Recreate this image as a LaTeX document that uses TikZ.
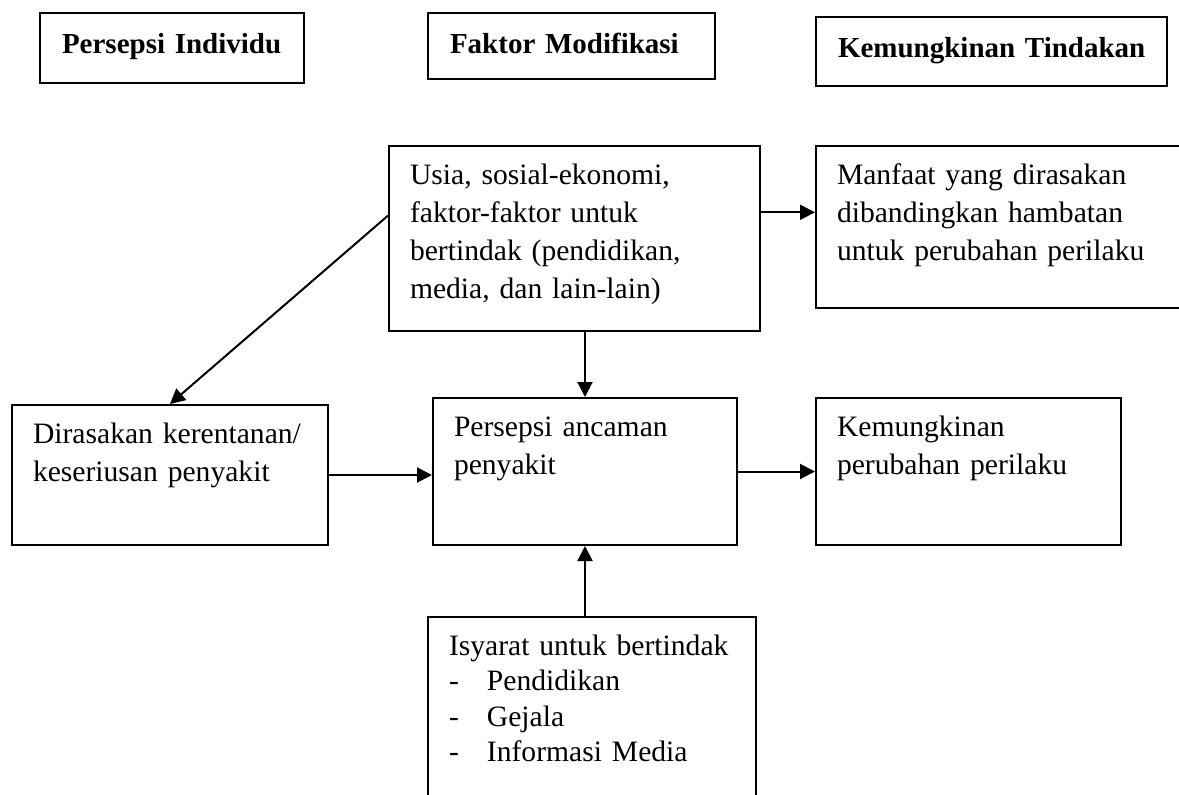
\documentclass[tikz,border=0pt]{standalone}
\usepackage{fontspec}
\setmainfont{Liberation Serif}
\usetikzlibrary{arrows.meta, positioning}

\begin{document}
\begin{tikzpicture}[
    font=\fontsize{14.8}{19}\selectfont,
    >={Triangle[length=7.5pt,width=7.5pt]},
    base/.style={
        rectangle,
        draw,
        line width=1pt,
        align=left,
        inner xsep=10.5pt,
        inner ysep=0pt,
        text height=19pt
    },
    header/.style={
        base,
        font=\fontsize{14.5}{19}\selectfont\bfseries,
        inner xsep=11pt,
        text height=20pt
    },
    flow/.style={
        ->,
        line width=1pt
    }
]

\useasboundingbox (0,0) rectangle (589.5pt,-397pt);

% --- Column headers ----------------------------------------------------------

\node[header, anchor=north west, text width=110pt, text depth=15pt] (persepsi)
    at (19.5pt,-6pt) {\mbox{Persepsi Individu}};

\node[header, right=61pt of persepsi.north east, anchor=north west,
      text width=121.5pt, text depth=13pt] (faktor) {\mbox{Faktor Modifikasi}};

\node[header, below right=2pt and 49.5pt of faktor.north east,
      text width=153.5pt, text depth=14.5pt] (tindakan) {\mbox{Kemungkinan Tindakan}};

% --- Model boxes -------------------------------------------------------------

\node[base, below right=32.5pt and -19.5pt of faktor.south west,
      text width=164.5pt, text depth=73.5pt] (usia) {Usia, sosial-ekonomi,\\
faktor-faktor untuk\\
bertindak (pendidikan,\\
media, dan lain-lain)};

\node[base, right=27pt of usia.north east, anchor=north west,
      text width=162.5pt, text depth=62pt] (manfaat) {Manfaat yang dirasakan\\
dibandingkan hambatan\\
untuk perubahan perilaku};

\node[base, below right=32.5pt and 22pt of usia.south west,
      text width=131pt, text depth=54.5pt] (ancaman) {Persepsi ancaman\\
penyakit};

\node[base, right=38.5pt of ancaman.north east, anchor=north west,
      text width=131.5pt, text depth=54.5pt] (perubahan) {Kemungkinan\\
perubahan perilaku};

\node[base, below left=3.5pt and 51.5pt of ancaman.north west,
      text width=137pt, text depth=51pt] (kerentanan) {Dirasakan kerentanan/\\
keseriusan penyakit};

\node[base, below right=35pt and -2.5pt of ancaman.south west,
      font=\fontsize{14.8}{17.8}\selectfont,
      text width=143pt, text depth=81pt] (isyarat) {Isyarat untuk bertindak\\
\makebox[19pt][l]{-}Pendidikan\\
\makebox[19pt][l]{-}Gejala\\
\makebox[19pt][l]{-}Informasi Media};

% --- Arrows ------------------------------------------------------------------

\draw[flow] (usia.173) -- (kerentanan.north);
\draw[flow] (usia.8) -- (usia.8 -| manfaat.west);
\draw[flow] (usia.south -| ancaman.north) -- (ancaman.north);
\draw[flow] (kerentanan.east) -- (kerentanan.east -| ancaman.west);
\draw[flow] (ancaman.east) -- (perubahan.west);
\draw[flow] (isyarat.north -| ancaman.south) -- (ancaman.south);

\end{tikzpicture}
\end{document}
